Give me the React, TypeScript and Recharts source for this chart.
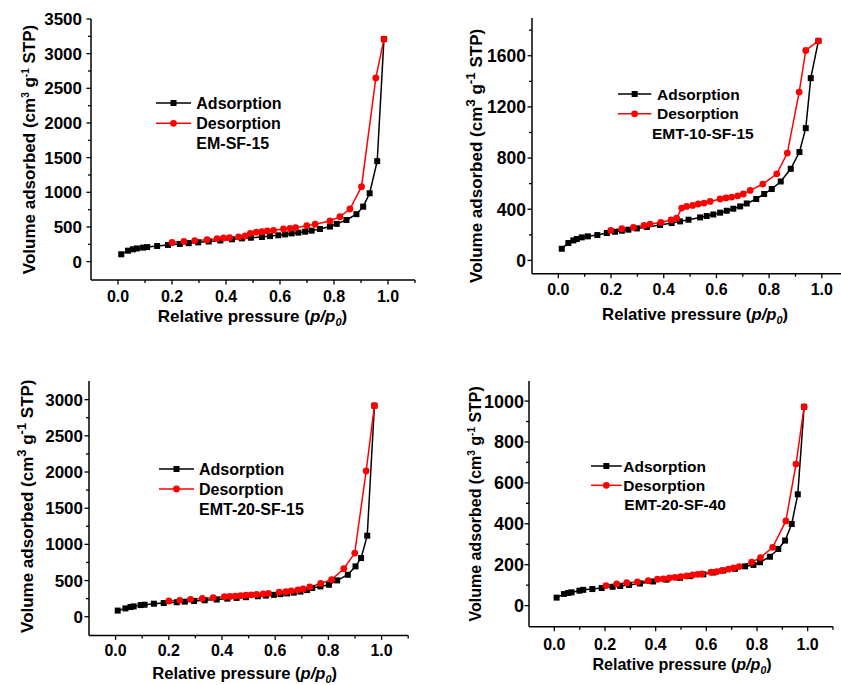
import React from 'react';
import { LineChart, Line, XAxis, YAxis, Legend } from 'recharts';

const FONT = "'Liberation Sans', Arial, Helvetica, sans-serif";

// ---------- shared axis labels ----------
const pressureTicks = [0, 0.1, 0.2, 0.3, 0.4, 0.5, 0.6, 0.7, 0.8, 0.9, 1.0, 1.1];
const pressureMajor = [0, 0.2, 0.4, 0.6, 0.8, 1.0];
const pressureLabels = ['0.0', '0.2', '0.4', '0.6', '0.8', '1.0'];
const seriesNames = ['Adsorption', 'Desorption'];
const sampleNames = ['EM-SF-15', 'EMT-10-SF-15', 'EMT-20-SF-15', 'EMT-20-SF-40'];

// ---------- Panel 1: EM-SF-15 ----------
const p1AdsP = [0.012, 0.037, 0.055, 0.07, 0.093, 0.108, 0.145, 0.185, 0.229, 0.262, 0.297, 0.336, 0.379, 0.422, 0.459, 0.492, 0.533, 0.563, 0.594, 0.619, 0.643, 0.668, 0.693, 0.717, 0.748, 0.785, 0.81, 0.846, 0.883, 0.908, 0.932, 0.96, 0.985];
const p1AdsV = [106, 158, 178, 190, 202, 210, 225, 240, 255, 266, 278, 290, 305, 322, 335, 345, 355, 368, 380, 393, 407, 418, 432, 447, 471, 506, 545, 601, 685, 793, 986, 1449, 3210];
const p1DesP = [0.985, 0.955, 0.902, 0.859, 0.822, 0.785, 0.73, 0.699, 0.658, 0.637, 0.613, 0.576, 0.553, 0.533, 0.512, 0.49, 0.471, 0.447, 0.413, 0.391, 0.367, 0.33, 0.284, 0.244, 0.2];
const p1DesV = [3210, 2650, 1081, 759, 648, 586, 539, 519, 490, 481, 471, 452, 442, 432, 424, 409, 370, 356, 346, 341, 331, 317, 303, 291, 276];
const p1YTicks = [0, 250, 500, 750, 1000, 1250, 1500, 1750, 2000, 2250, 2500, 2750, 3000, 3250, 3500];
const p1YMajor = [0, 500, 1000, 1500, 2000, 2500, 3000, 3500];

// ---------- Panel 2: EMT-10-SF-15 ----------
const p2AdsP = [0.013, 0.038, 0.057, 0.07, 0.089, 0.112, 0.148, 0.184, 0.215, 0.241, 0.266, 0.298, 0.336, 0.386, 0.43, 0.462, 0.494, 0.538, 0.563, 0.588, 0.614, 0.639, 0.664, 0.69, 0.715, 0.751, 0.781, 0.81, 0.844, 0.882, 0.915, 0.939, 0.958, 0.987];
const p2AdsV = [91, 136, 156, 167, 180, 188, 198, 214, 224, 232, 240, 250, 261, 277, 292, 305, 318, 336, 347, 359, 373, 388, 404, 422, 445, 480, 519, 558, 617, 716, 847, 1034, 1425, 1716];
const p2DesP = [0.987, 0.939, 0.914, 0.869, 0.829, 0.776, 0.728, 0.702, 0.681, 0.658, 0.636, 0.614, 0.576, 0.553, 0.531, 0.51, 0.487, 0.468, 0.449, 0.428, 0.389, 0.348, 0.325, 0.285, 0.241, 0.199];
const p2DesV = [1716, 1641, 1316, 839, 677, 597, 547, 519, 505, 495, 488, 480, 461, 448, 441, 430, 422, 409, 331, 316, 297, 284, 273, 258, 248, 234];
const p2YTicks = [0, 200, 400, 600, 800, 1000, 1200, 1400, 1600, 1800];
const p2YMajor = [0, 400, 800, 1200, 1600];

// ---------- Panel 3: EMT-20-SF-15 ----------
const p3AdsP = [0.008, 0.037, 0.056, 0.068, 0.094, 0.109, 0.144, 0.181, 0.23, 0.26, 0.295, 0.335, 0.38, 0.42, 0.455, 0.49, 0.535, 0.565, 0.595, 0.62, 0.645, 0.67, 0.695, 0.72, 0.739, 0.77, 0.802, 0.833, 0.873, 0.902, 0.923, 0.946, 0.973];
const p3AdsV = [85, 115, 134, 143, 161, 166, 180, 189, 200, 208, 217, 227, 238, 250, 260, 270, 283, 292, 302, 312, 322, 333, 347, 368, 397, 419, 442, 502, 580, 696, 811, 1120, 2917];
const p3DesP = [0.973, 0.942, 0.899, 0.858, 0.812, 0.771, 0.73, 0.705, 0.685, 0.66, 0.64, 0.615, 0.575, 0.555, 0.53, 0.51, 0.49, 0.47, 0.45, 0.43, 0.409, 0.367, 0.326, 0.282, 0.241, 0.2];
const p3DesV = [2917, 2014, 880, 664, 512, 460, 412, 383, 370, 357, 348, 338, 322, 315, 308, 302, 297, 291, 286, 280, 276, 263, 253, 240, 226, 217];
const p3YTicks = [0, 250, 500, 750, 1000, 1250, 1500, 1750, 2000, 2250, 2500, 2750, 3000];
const p3YMajor = [0, 500, 1000, 1500, 2000, 2500, 3000];

// ---------- Panel 4: EMT-20-SF-40 ----------
const p4AdsP = [0.009, 0.038, 0.055, 0.068, 0.099, 0.114, 0.15, 0.187, 0.23, 0.26, 0.295, 0.338, 0.39, 0.443, 0.496, 0.536, 0.588, 0.628, 0.667, 0.713, 0.753, 0.786, 0.812, 0.851, 0.884, 0.911, 0.937, 0.961, 0.986];
const p4AdsV = [39, 57, 62, 65, 73, 77, 81, 86, 92, 96, 101, 108, 118, 127, 136, 144, 153, 162, 172, 180, 192, 199, 212, 239, 277, 318, 399, 544, 972];
const p4DesP = [0.986, 0.954, 0.914, 0.862, 0.814, 0.779, 0.73, 0.707, 0.687, 0.661, 0.641, 0.618, 0.582, 0.566, 0.546, 0.522, 0.499, 0.476, 0.454, 0.43, 0.407, 0.371, 0.328, 0.286, 0.246, 0.204];
const p4DesV = [972, 692, 414, 285, 235, 212, 191, 184, 178, 171, 166, 163, 155, 153, 150, 145, 142, 138, 135, 130, 129, 122, 116, 112, 106, 98];
const p4YTicks = [0, 100, 200, 300, 400, 500, 600, 700, 800, 900, 1000];
const p4YMajor = [0, 200, 400, 600, 800, 1000];

const zip = (ps: number[], vs: number[]) => ps.map((p, i) => ({ p, v: vs[i] }));

const ML = 95, MT = 15, MR = 15, MB = 60;
const axisStyle = { stroke: '#000', strokeWidth: 1.5 };

const panels = [
  {
    box: { x: 91, y: 19, w: 324, h: 261 }, yDomain: [-265, 3500],
    yTicks: p1YTicks, yMajor: p1YMajor, ads: zip(p1AdsP, p1AdsV), des: zip(p1DesP, p1DesV),
    yTickFont: 17, yTickGap: 9, xTickFont: 16, xTickDy: 21.5,
    yTitle: { dx: -56, dy: 0, font: 17, sup: 10, supDy: 6 },
    xTitle: { dx: -0.5, dy: 42, font: 17 },
    legend: { x0: 155.7, y0: 102.7, L: 35, textX: 196, gap: 20.3, labelX: 196, font: 16, label: sampleNames[0] },
  },
  {
    box: { x: 532.3, y: 18.3, w: 316.2, h: 255.7 }, yDomain: [-104, 1895],
    yTicks: p2YTicks, yMajor: p2YMajor, ads: zip(p2AdsP, p2AdsV), des: zip(p2DesP, p2DesV),
    yTickFont: 17.5, yTickGap: 6, xTickFont: 16, xTickDy: 21,
    yTitle: { dx: -49.5, dy: 10, font: 17, sup: 13.5, supDy: 7 },
    xTitle: { dx: 5, dy: 46, font: 16.7 },
    legend: { x0: 617.7, y0: 93.7, L: 33.3, textX: 656.7, gap: 19.8, labelX: 651.7, font: 15.5, label: sampleNames[1] },
  },
  {
    box: { x: 88.5, y: 381.3, w: 319.2, h: 254.4 }, yDomain: [-258, 3258],
    yTicks: p3YTicks, yMajor: p3YMajor, ads: zip(p3AdsP, p3AdsV), des: zip(p3DesP, p3DesV),
    yTickFont: 17, yTickGap: 6, xTickFont: 16, xTickDy: 21,
    yTitle: { dx: -56, dy: -2, font: 17, sup: 13, supDy: 7 },
    xTitle: { dx: -4, dy: 43.5, font: 16.6 },
    legend: { x0: 159.3, y0: 469.3, L: 35, textX: 199.3, gap: 20, labelX: 199.3, font: 16, label: sampleNames[2] },
  },
  {
    box: { x: 529, y: 381, w: 304, h: 245.7 }, yDomain: [-103, 1098],
    yTicks: p4YTicks, yMajor: p4YMajor, ads: zip(p4AdsP, p4AdsV), des: zip(p4DesP, p4DesV),
    yTickFont: 18, yTickGap: 5, xTickFont: 16, xTickDy: 23,
    yTitle: { dx: -48, dy: 0, font: 16, sup: 10, supDy: 6 },
    xTitle: { dx: 1, dy: 43.5, font: 16.1 },
    legend: { x0: 591, y0: 466.3, L: 30.7, textX: 623.3, gap: 19.3, labelX: 624.3, font: 15.5, label: sampleNames[3] },
  },
];

const XTick = (props: any) => {
  const { x, y, payload, fontSize, dyLabel } = props;
  const idx = pressureMajor.findIndex((m) => Math.abs(m - payload.value) < 1e-6);
  const major = idx >= 0;
  return (
    <g>
      <line x1={x} x2={x} y1={y} y2={y + (major ? 4.5 : 3)} stroke="#000" strokeWidth={1.3} />
      {major && (
        <text x={x} y={y + dyLabel} textAnchor="middle" fontSize={fontSize} fontWeight="bold" fontFamily={FONT} fill="#000">
          {pressureLabels[idx]}
        </text>
      )}
    </g>
  );
};

const YTick = (props: any) => {
  const { x, y, payload, fontSize, gap, majors } = props;
  const major = majors.includes(payload.value);
  return (
    <g>
      <line x1={x} x2={x - (major ? 4.5 : 3)} y1={y} y2={y} stroke="#000" strokeWidth={1.3} />
      {major && (
        <text x={x - gap} y={y + fontSize * 0.36} textAnchor="end" fontSize={fontSize} fontWeight="bold" fontFamily={FONT} fill="#000">
          {String(payload.value)}
        </text>
      )}
    </g>
  );
};

const YTitle = (props: any) => {
  const { cfg } = props;
  const t = cfg.yTitle;
  const cx = ML + t.dx;
  const cy = MT + cfg.box.h / 2 + t.dy;
  return (
    <text x={cx} y={cy} transform={`rotate(-90 ${cx} ${cy})`} textAnchor="middle" fontSize={t.font} fontWeight="bold" fontFamily={FONT} fill="#000">
      Volume adsorbed (cm
      <tspan dy={-t.supDy} fontSize={t.sup}>3</tspan>
      <tspan dy={t.supDy}> g</tspan>
      <tspan dy={-t.supDy} fontSize={t.sup}>-1</tspan>
      <tspan dy={t.supDy}> STP)</tspan>
    </text>
  );
};

const XTitle = (props: any) => {
  const { cfg } = props;
  const t = cfg.xTitle;
  const cx = ML + cfg.box.w / 2 + t.dx;
  const cy = MT + cfg.box.h + t.dy;
  return (
    <text x={cx} y={cy} textAnchor="middle" fontSize={t.font} fontWeight="bold" fontFamily={FONT} fill="#000">
      Relative pressure (
      <tspan fontStyle="italic">p/p</tspan>
      <tspan fontStyle="italic" dy={4} fontSize={t.font * 0.65}>0</tspan>
      <tspan dy={-4}>)</tspan>
    </text>
  );
};

const squareDot = (props: any) => {
  const { cx, cy, index } = props;
  return <rect key={`s${index}`} x={cx - 3} y={cy - 3} width={6} height={6} fill="#000" />;
};
const circleDot = (props: any) => {
  const { cx, cy, index } = props;
  return <circle key={`c${index}`} cx={cx} cy={cy} r={3.4} fill="#ff0000" />;
};

const LegendBox = ({ lg }: any) => {
  const r1 = 10, r2 = 10 + lg.gap, r3 = 10 + 2 * lg.gap;
  const tx = lg.textX - lg.x0;
  const lx = lg.labelX - lg.x0;
  const b = lg.font * 0.36;
  return (
    <svg width={220} height={70} style={{ display: 'block', overflow: 'visible' }}>
      <line x1={0} x2={lg.L} y1={r1} y2={r1} stroke="#000" strokeWidth={1.5} />
      <rect x={lg.L / 2 - 3} y={r1 - 3} width={6} height={6} fill="#000" />
      <text x={tx} y={r1 + b} fontSize={lg.font} fontWeight="bold" fontFamily={FONT} fill="#000">{seriesNames[0]}</text>
      <line x1={0} x2={lg.L} y1={r2} y2={r2} stroke="#ff0000" strokeWidth={1.5} />
      <circle cx={lg.L / 2} cy={r2} r={3.4} fill="#ff0000" />
      <text x={tx} y={r2 + b} fontSize={lg.font} fontWeight="bold" fontFamily={FONT} fill="#000">{seriesNames[1]}</text>
      <text x={lx} y={r3 + b} fontSize={lg.font} fontWeight="bold" fontFamily={FONT} fill="#000">{lg.label}</text>
    </svg>
  );
};

const Panel = ({ cfg }: any) => {
  const { box } = cfg;
  const W = box.w + ML + MR;
  const H = box.h + MT + MB;
  const left = box.x - ML;
  const top = box.y - MT;
  const xDomain = [-0.1, 1.1];
  return (
    <div style={{ position: 'absolute', left, top, width: W, height: H }}>
      <LineChart width={W} height={H} margin={{ top: MT, right: MR, left: 0, bottom: 0 }}>
        <XAxis
          type="number" dataKey="p" domain={xDomain} allowDataOverflow ticks={pressureTicks} interval={0}
          tickSize={0} tickMargin={0} tickLine={false} axisLine={axisStyle} height={MB}
          tick={<XTick fontSize={cfg.xTickFont} dyLabel={cfg.xTickDy} />}
          label={<XTitle cfg={cfg} />}
        />
        <XAxis xAxisId="top" orientation="top" type="number" dataKey="p" domain={xDomain} allowDataOverflow tick={false} tickLine={false} axisLine={axisStyle} height={0} />
        <YAxis
          type="number" dataKey="v" domain={cfg.yDomain} allowDataOverflow ticks={cfg.yTicks} interval={0}
          tickSize={0} tickMargin={0} tickLine={false} axisLine={axisStyle} width={ML}
          tick={<YTick fontSize={cfg.yTickFont} gap={cfg.yTickGap} majors={cfg.yMajor} />}
          label={<YTitle cfg={cfg} />}
        />
        <YAxis yAxisId="right" orientation="right" type="number" dataKey="v" domain={cfg.yDomain} allowDataOverflow tick={false} tickLine={false} axisLine={axisStyle} width={0} />
        <Legend
          layout="vertical" align="center" verticalAlign="middle"
          wrapperStyle={{ left: cfg.legend.x0 - left, top: cfg.legend.y0 - top - 10, width: 220, height: 70 }}
          content={() => <LegendBox lg={cfg.legend} />}
        />
        <Line data={cfg.ads} dataKey="v" name={seriesNames[0]} stroke="#000" strokeWidth={1.5} dot={squareDot} activeDot={false} isAnimationActive={false} />
        <Line data={cfg.des} dataKey="v" name={seriesNames[1]} stroke="#ff0000" strokeWidth={1.5} dot={circleDot} activeDot={false} isAnimationActive={false} />
      </LineChart>
    </div>
  );
};

export default function App() {
  return (
    <div style={{ position: 'absolute', left: 0, top: 0, width: 841, height: 685, overflow: 'hidden', background: '#fff' }}>
      {panels.map((cfg, i) => (
        <Panel key={i} cfg={cfg} />
      ))}
    </div>
  );
}
